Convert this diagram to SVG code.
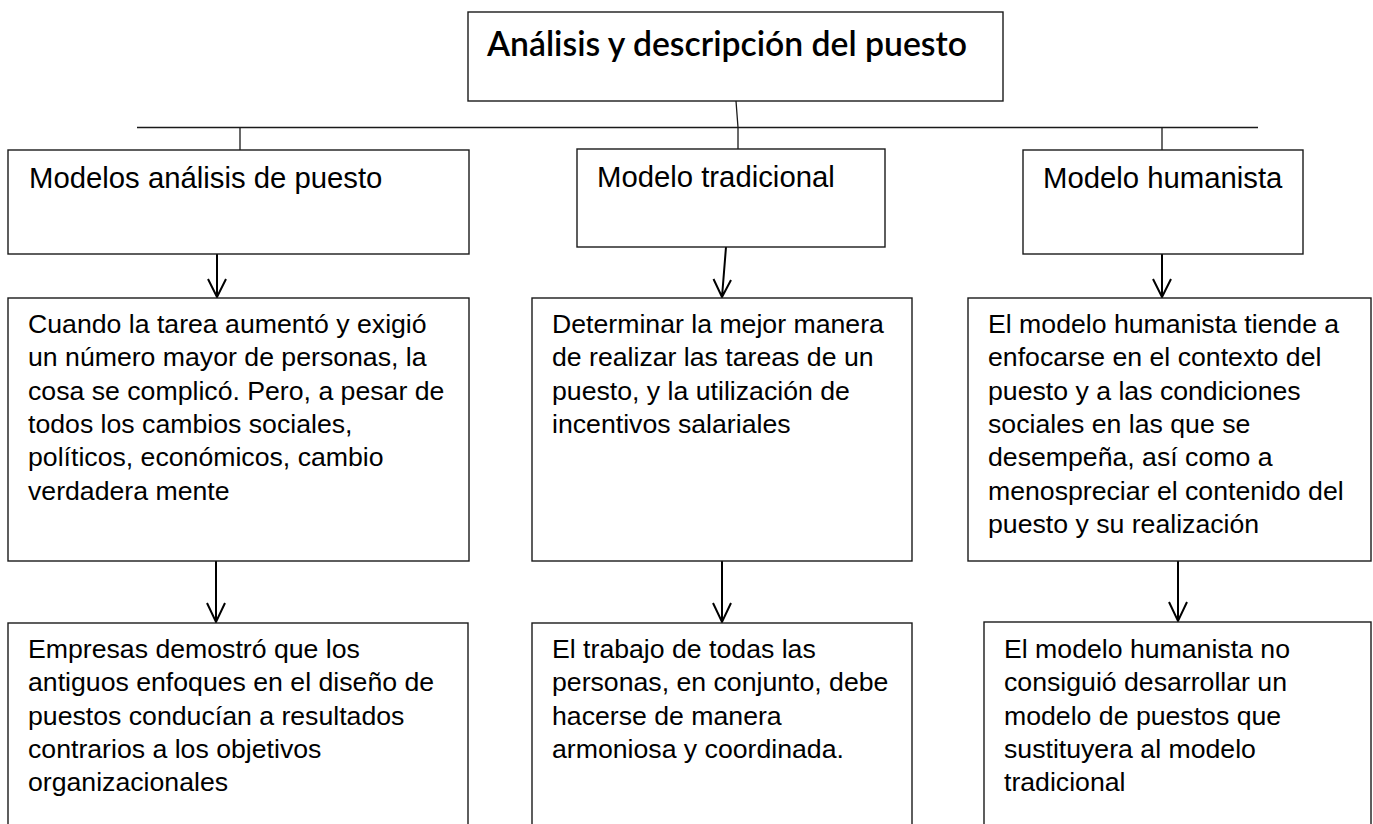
<svg xmlns="http://www.w3.org/2000/svg" width="1373" height="824" viewBox="0 0 1373 824">
<style>
.box{fill:#fff;stroke:#1a1a1a;stroke-width:1.4}
.ln{fill:none;stroke:#1a1a1a;stroke-width:1.3}
.ar{fill:none;stroke:#000;stroke-width:2}
.hd{font-family:"Liberation Sans",Arial,sans-serif;font-size:29.3px;fill:#000}
.bd{font-family:"Liberation Sans",Arial,sans-serif;font-size:26.67px;fill:#000}
.tt{font-family:Lato,"Open Sans",sans-serif;font-size:35px;font-weight:600;fill:#000}
</style>
<rect width="1373" height="824" fill="#fff"/>
<g id="connectors">
<path class="ln" d="M137 127.5 H1258"/>
<path class="ln" d="M736 101 L738 127.5 L738 149"/>
<path class="ln" d="M240 127.5 V150"/>
<path class="ln" d="M1162 127.5 V150"/>
<path class="ar" d="M217 254 V297 M208 279 L217 297 L226 279"/>
<path class="ar" d="M726 247 L722 297 M713.5 279 L722 297 L731 280"/>
<path class="ar" d="M1162 254 V297 M1153 279 L1162 297 L1171 279"/>
<path class="ar" d="M216 561 V622 M207 603 L216 622 L225 603"/>
<path class="ar" d="M722 561 V622 M713 603 L722 622 L731 603"/>
<path class="ar" d="M1178 561 V621 M1169 602 L1178 621 L1187 602"/>
</g>
<g id="title">
<rect class="box" x="468" y="12" width="535" height="89"/>
<text class="tt" x="487" y="56" textLength="480" lengthAdjust="spacingAndGlyphs">Análisis y descripción del puesto</text>
</g>
<g id="modelos">
<rect class="box" x="8" y="150" width="461" height="104"/>
<text class="hd" x="29" y="188">Modelos análisis de puesto</text>
</g>
<g id="tradicional">
<rect class="box" x="577" y="149" width="308" height="98"/>
<text class="hd" x="597" y="187">Modelo tradicional</text>
</g>
<g id="humanista">
<rect class="box" x="1023" y="150" width="280" height="104"/>
<text class="hd" x="1043" y="188">Modelo humanista</text>
</g>
<g id="modelos-desc">
<rect class="box" x="8" y="298" width="461" height="263"/>
<text class="bd">
<tspan x="28" y="333">Cuando la tarea aumentó y exigió</tspan>
<tspan x="28" y="366.3">un número mayor de personas, la</tspan>
<tspan x="28" y="399.6">cosa se complicó. Pero, a pesar de</tspan>
<tspan x="28" y="432.9">todos los cambios sociales,</tspan>
<tspan x="28" y="466.2">políticos, económicos, cambio</tspan>
<tspan x="28" y="499.5">verdadera mente</tspan>
</text>
</g>
<g id="tradicional-desc">
<rect class="box" x="532" y="298" width="380" height="263"/>
<text class="bd">
<tspan x="552" y="333">Determinar la mejor manera</tspan>
<tspan x="552" y="366.3">de realizar las tareas de un</tspan>
<tspan x="552" y="399.6">puesto, y la utilización de</tspan>
<tspan x="552" y="432.9">incentivos salariales</tspan>
</text>
</g>
<g id="humanista-desc">
<rect class="box" x="968" y="298" width="403" height="263"/>
<text class="bd">
<tspan x="988" y="333">El modelo humanista tiende a</tspan>
<tspan x="988" y="366.3">enfocarse en el contexto del</tspan>
<tspan x="988" y="399.6">puesto y a las condiciones</tspan>
<tspan x="988" y="432.9">sociales en las que se</tspan>
<tspan x="988" y="466.2">desempeña, así como a</tspan>
<tspan x="988" y="499.5">menospreciar el contenido del</tspan>
<tspan x="988" y="532.8">puesto y su realización</tspan>
</text>
</g>
<g id="modelos-result">
<rect class="box" x="8" y="623" width="460" height="215"/>
<text class="bd">
<tspan x="28" y="658">Empresas demostró que los</tspan>
<tspan x="28" y="691.3">antiguos enfoques en el diseño de</tspan>
<tspan x="28" y="724.6">puestos conducían a resultados</tspan>
<tspan x="28" y="757.9">contrarios a los objetivos</tspan>
<tspan x="28" y="791.2">organizacionales</tspan>
</text>
</g>
<g id="tradicional-result">
<rect class="box" x="532" y="623" width="380" height="215"/>
<text class="bd">
<tspan x="552" y="658">El trabajo de todas las</tspan>
<tspan x="552" y="691.3">personas, en conjunto, debe</tspan>
<tspan x="552" y="724.6">hacerse de manera</tspan>
<tspan x="552" y="757.9">armoniosa y coordinada.</tspan>
</text>
</g>
<g id="humanista-result">
<rect class="box" x="984" y="622" width="387" height="216"/>
<text class="bd">
<tspan x="1004" y="658">El modelo humanista no</tspan>
<tspan x="1004" y="691.3">consiguió desarrollar un</tspan>
<tspan x="1004" y="724.6">modelo de puestos que</tspan>
<tspan x="1004" y="757.9">sustituyera al modelo</tspan>
<tspan x="1004" y="791.2">tradicional</tspan>
</text>
</g>
</svg>
